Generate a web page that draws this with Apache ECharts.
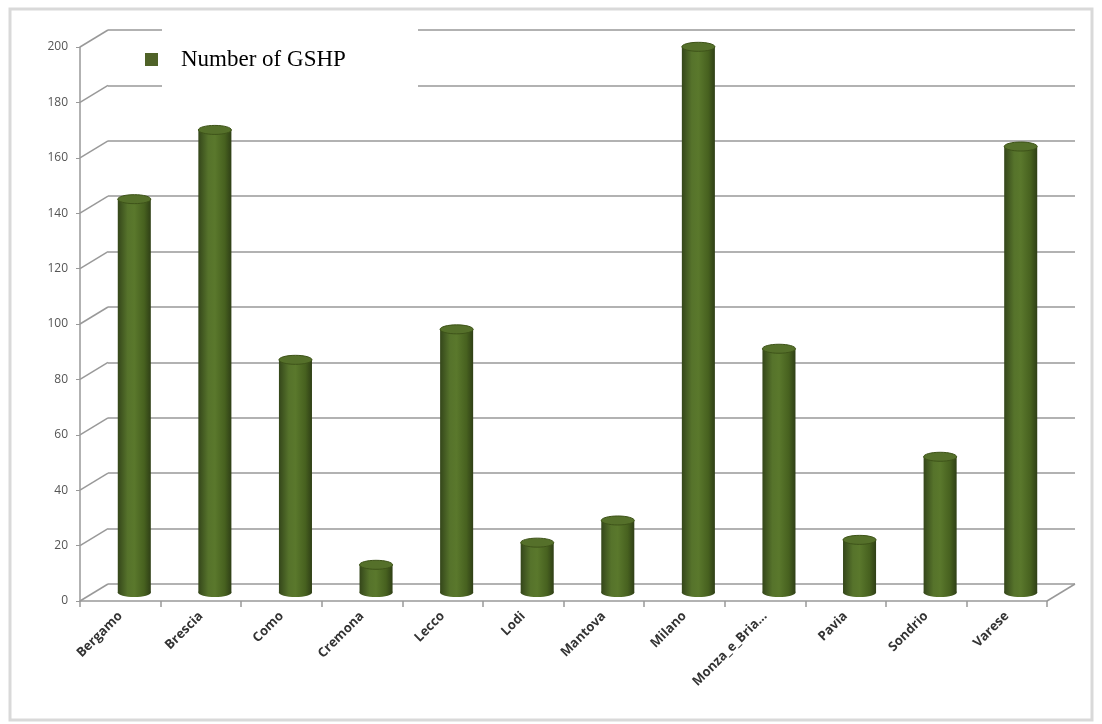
<!DOCTYPE html>
<html>
<head>
<meta charset="utf-8">
<script src="https://cdn.jsdelivr.net/npm/echarts@6/dist/echarts.min.js"></script>
<style>html,body{margin:0;padding:0;background:#fff}#c{width:1102px;height:724px}</style>
</head>
<body>
<div id="c"></div>
<script>
var categories = ['Bergamo','Brescia','Como','Cremona','Lecco','Lodi','Mantova','Milano','Monza_e_Bria...','Pavia','Sondrio','Varese'];
var gshp = [142, 167, 84, 10, 95, 18, 26, 197, 88, 19, 49, 161];
var yTicks = [0, 20, 40, 60, 80, 100, 120, 140, 160, 180, 200];
var seriesName = 'Number of GSHP';

var DX = 28, DY = 17;
var GRID = '#999999';
var chart = echarts.init(document.getElementById('c'));

function cylinder(params, api) {
  var i = api.value(0), v = api.value(1);
  var top = api.coord([i, v]);
  var base = api.coord([i, 0]);
  var w = api.size([1, 0])[0] * 0.41;
  var cx = top[0], x0 = cx - w / 2;
  var ry = 4.5;
  var grad = new echarts.graphic.LinearGradient(0, 0, 1, 0, [
    {offset: 0, color: '#34461a'},
    {offset: 0.3, color: '#56732b'},
    {offset: 0.5, color: '#5a782c'},
    {offset: 0.8, color: '#47611f'},
    {offset: 1, color: '#2f3f16'}
  ]);
  return {
    type: 'group',
    children: [
      {type: 'ellipse', shape: {cx: cx, cy: base[1], rx: w / 2, ry: ry}, style: {fill: grad}},
      {type: 'rect', shape: {x: x0, y: top[1], width: w, height: base[1] - top[1]}, style: {fill: grad}},
      {type: 'ellipse', shape: {cx: cx, cy: top[1], rx: w / 2, ry: ry}, style: {fill: '#55702a', stroke: '#3e5319', lineWidth: 1}}
    ]
  };
}

function diag(params, api) {
  var v = api.value(1);
  var p = api.coord([0, v]);
  var x0 = p[0] - api.size([1, 0])[0] / 2;
  return {type: 'line', shape: {x1: x0, y1: p[1], x2: x0 + DX, y2: p[1] - DY}, style: {stroke: GRID, lineWidth: 1.5}};
}

function rightEdge(params, api) {
  var p = api.coord([categories.length - 1, 0]);
  var x1 = p[0] + api.size([1, 0])[0] / 2;
  return {type: 'line', shape: {x1: x1, y1: p[1], x2: x1 + DX, y2: p[1] - DY}, style: {stroke: GRID, lineWidth: 1.5}};
}

chart.setOption({
  animation: false,
  backgroundColor: '#fff',
  graphic: [
    {type: 'rect', z: 0, shape: {x: 10, y: 9, width: 1082, height: 711}, style: {fill: 'none', stroke: '#d9d9d9', lineWidth: 3}},
    {type: 'rect', z: 5, shape: {x: 162, y: 28, width: 256, height: 60}, style: {fill: '#fff'}}
  ],
  legend: {
    z: 10,
    left: 140, top: 43,
    itemWidth: 13, itemHeight: 13, itemGap: 10,
    icon: 'rect',
    data: [seriesName],
    textStyle: {fontFamily: 'Liberation Serif', fontSize: 23, color: '#000', padding: [0, 0, 0, 18]}
  },
  grid: [
    {left: 80 + DX, right: 55 - DX, top: 47 - DY, bottom: 123 + DY},
    {left: 80, right: 55, top: 47, bottom: 123},
    {left: 80 + DX / 2, right: 55 - DX / 2, top: 47 - DY / 2, bottom: 123 + DY / 2}
  ],
  xAxis: [
    {gridIndex: 0, type: 'category', data: categories, show: false},
    {gridIndex: 1, type: 'category', data: categories,
      axisLine: {show: true, lineStyle: {color: GRID, width: 1.5}},
      axisTick: {show: true, length: 6, lineStyle: {color: GRID, width: 1.5}},
      axisLabel: {rotate: 45, margin: 13, interval: 0, color: '#333', fontWeight: 'bold', fontSize: 13, fontFamily: 'Open Sans'}},
    {gridIndex: 2, type: 'category', data: categories, show: false}
  ],
  yAxis: [
    {gridIndex: 0, type: 'value', min: 0, max: 200, interval: 20,
      axisLine: {show: false}, axisTick: {show: false}, axisLabel: {show: false},
      splitLine: {show: true, lineStyle: {color: GRID, width: 1.5}}},
    {gridIndex: 1, type: 'value', min: 0, max: 200, interval: 20,
      axisLine: {show: true, lineStyle: {color: GRID, width: 1.5}},
      axisTick: {show: true, length: 4, lineStyle: {color: GRID}},
      axisLabel: {color: '#555', fontSize: 12, margin: 12, fontFamily: 'Open Sans'},
      splitLine: {show: false}},
    {gridIndex: 2, type: 'value', min: 0, max: 200, interval: 20, show: false, splitLine: {show: false}}
  ],
  series: [
    {type: 'custom', name: 'diag', xAxisIndex: 1, yAxisIndex: 1, silent: true, z: 1,
      data: yTicks.map(function (t) { return [0, t]; }), renderItem: diag},
    {type: 'custom', name: 'edge', xAxisIndex: 1, yAxisIndex: 1, silent: true, z: 1,
      data: [[0, 0]], renderItem: rightEdge},
    {type: 'custom', name: seriesName, xAxisIndex: 2, yAxisIndex: 2, z: 3,
      itemStyle: {color: '#4f6228'},
      data: gshp.map(function (v, i) { return [i, v]; }), renderItem: cylinder}
  ]
});
</script>
</body>
</html>
